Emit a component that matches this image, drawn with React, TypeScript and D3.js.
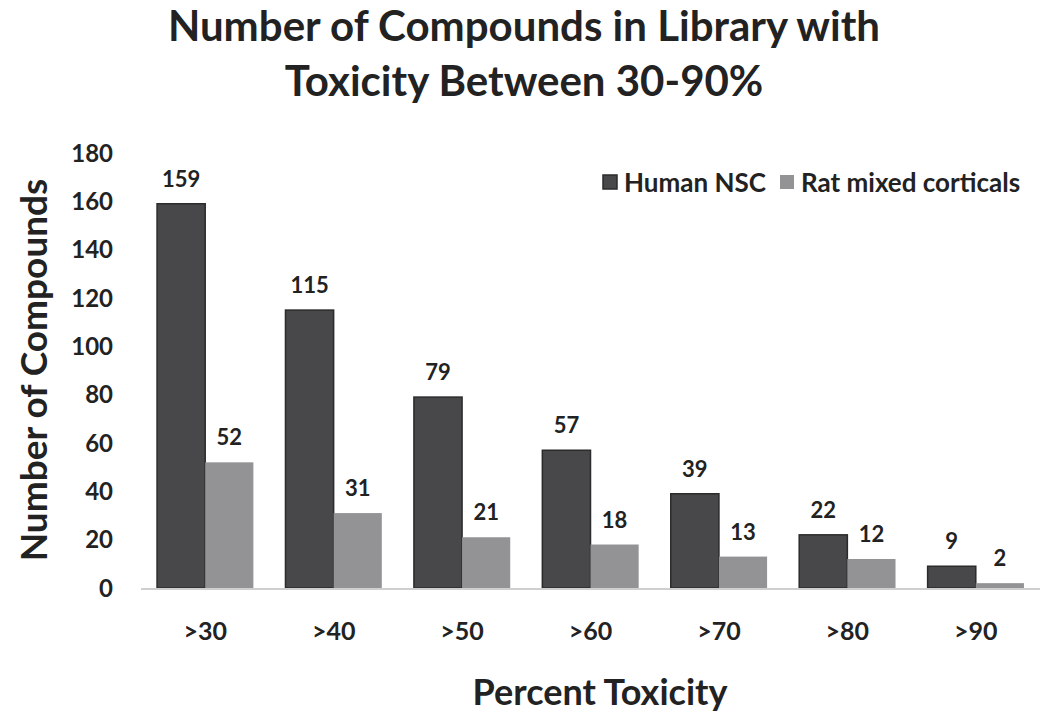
import { useEffect, useRef } from 'react';
import * as d3 from 'd3';

const categories = ['>30', '>40', '>50', '>60', '>70', '>80', '>90'];
const humanNSC = [159, 115, 79, 57, 39, 22, 9];
const ratCorticals = [52, 31, 21, 18, 13, 12, 2];
const seriesNames = ['Human NSC', 'Rat mixed corticals'];
const yTicks = [0, 20, 40, 60, 80, 100, 120, 140, 160, 180];

const FONT = 'Lato, "Open Sans", sans-serif';

export default function App() {
  const svgRef = useRef<SVGSVGElement>(null);

  useEffect(() => {
    const svg = d3.select(svgRef.current);
    svg.selectAll('*').remove();

    const left = 141, right = 1040, top = 153, bottom = 588;

    const x = d3.scaleBand().domain(categories).range([left, right]).paddingInner(0.25).paddingOuter(0.125);
    const xs = d3.scaleBand().domain(['h', 'r']).range([0, x.bandwidth()]);
    const y = d3.scaleLinear().domain([0, 180]).range([bottom, top]);

    // title
    const title = svg.append('text').attr('text-anchor', 'middle')
      .attr('font-family', FONT).attr('font-weight', 700).attr('font-size', 42).attr('fill', '#222');
    title.append('tspan').attr('x', 524).attr('y', 41).text('Number of Compounds in Library with');
    title.append('tspan').attr('x', 524).attr('y', 96).text('Toxicity Between 30-90%');

    // y tick labels
    svg.append('g').selectAll('text').data(yTicks).enter().append('text')
      .attr('x', 113).attr('y', d => y(d)).attr('dy', '0.36em')
      .attr('text-anchor', 'end').attr('font-family', FONT).attr('font-weight', 700)
      .attr('font-size', 24).attr('fill', '#222').text(d => d);

    // bars
    const g = svg.append('g');
    categories.forEach((c, i) => {
      const bars = [
        { key: 'h', v: humanNSC[i], fill: '#48484a', stroke: '#2b2b2b' },
        { key: 'r', v: ratCorticals[i], fill: '#939396', stroke: 'none' },
      ];
      bars.forEach(b => {
        const bx = x(c)! + xs(b.key)!;
        g.append('rect').attr('x', bx).attr('y', y(b.v)).attr('width', xs.bandwidth())
          .attr('height', y(0) - y(b.v)).attr('fill', b.fill)
          .attr('stroke', b.stroke).attr('stroke-width', 1.5);
        g.append('text').attr('x', bx + xs.bandwidth() / 2).attr('y', y(b.v) - 17)
          .attr('text-anchor', 'middle').attr('font-family', FONT).attr('font-weight', 700)
          .attr('font-size', 22).attr('fill', '#222').text(b.v);
      });
    });

    // x axis line
    svg.append('line').attr('x1', left).attr('x2', right).attr('y1', bottom + 1).attr('y2', bottom + 1)
      .attr('stroke', '#cfcfcf').attr('stroke-width', 2);

    // x tick labels
    svg.append('g').selectAll('text').data(categories).enter().append('text')
      .attr('x', d => x(d)! + x.bandwidth() / 2).attr('y', 640)
      .attr('text-anchor', 'middle').attr('font-family', FONT).attr('font-weight', 700)
      .attr('font-size', 25).attr('fill', '#222').text(d => d);

    // axis titles
    svg.append('text').attr('x', 600).attr('y', 705).attr('text-anchor', 'middle')
      .attr('font-family', FONT).attr('font-weight', 700).attr('font-size', 36).attr('fill', '#222')
      .text('Percent Toxicity');
    svg.append('text').attr('transform', 'translate(47,370) rotate(-90)').attr('text-anchor', 'middle')
      .attr('font-family', FONT).attr('font-weight', 700).attr('font-size', 37).attr('fill', '#222')
      .text('Number of Compounds');

    // legend
    const legend = [
      { name: seriesNames[0], fill: '#48484a', stroke: '#2b2b2b', x: 603 },
      { name: seriesNames[1], fill: '#939396', stroke: 'none', x: 780 },
    ];
    legend.forEach(l => {
      svg.append('rect').attr('x', l.x).attr('y', 175).attr('width', 14).attr('height', 14)
        .attr('fill', l.fill).attr('stroke', l.stroke).attr('stroke-width', 1.5);
      svg.append('text').attr('x', l.x + 21).attr('y', 192).attr('font-family', FONT)
        .attr('font-weight', 700).attr('font-size', 26).attr('fill', '#222').text(l.name);
    });
  }, []);

  return (
    <svg ref={svgRef} width={1050} height={718}
      style={{ position: 'absolute', left: 0, top: 0, background: '#fff' }} />
  );
}
